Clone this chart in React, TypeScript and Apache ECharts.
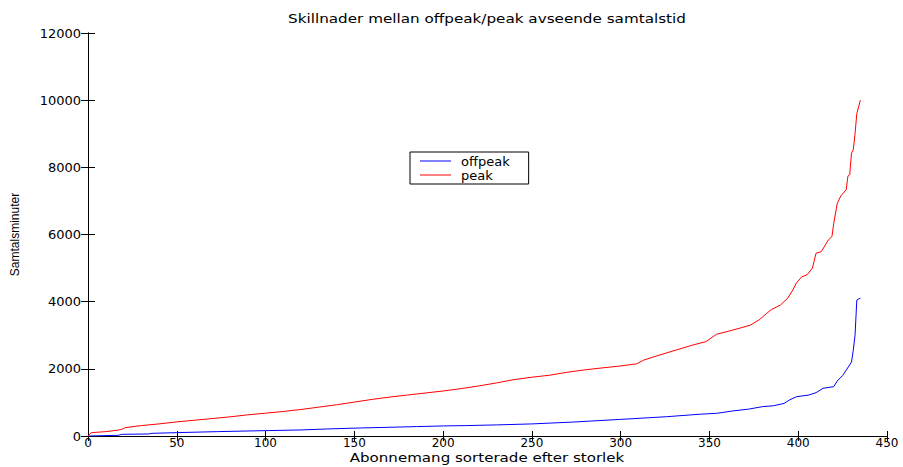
import React, { useEffect, useRef } from "react";
import * as echarts from "echarts";

// Subscribers sorted by size (index) and their call minutes.
const peakIdx = [0, 1, 2, 10, 17, 19, 21, 30, 40, 50, 60, 70, 80, 90, 100, 110, 120, 130, 140, 150, 160, 170, 180, 190, 200, 210, 220, 230, 240, 250, 260, 270, 280, 290, 300, 309, 313, 320, 330, 340, 348, 354, 360, 367, 373, 378, 382, 385, 390, 394, 397, 399, 402, 405, 408, 410, 413, 417, 419, 420, 422, 424, 427, 428, 429, 430, 431, 432, 433, 435];
const peakMin = [0, 60, 100, 130, 175, 200, 250, 310, 360, 420, 470, 520, 570, 630, 680, 730, 790, 860, 930, 1010, 1090, 1160, 1220, 1280, 1340, 1410, 1490, 1580, 1680, 1750, 1810, 1900, 1970, 2030, 2085, 2150, 2260, 2380, 2540, 2700, 2810, 3030, 3110, 3210, 3300, 3460, 3640, 3770, 3900, 4100, 4350, 4560, 4740, 4800, 5000, 5440, 5490, 5840, 5940, 6330, 6930, 7150, 7330, 7740, 7780, 8420, 8520, 9000, 9600, 10000];

const offpeakIdx = [0, 17, 19, 34, 36, 50, 73, 100, 120, 135, 154, 170, 185, 200, 213, 230, 250, 273, 300, 326, 345, 354, 363, 372, 380, 386, 392, 395, 399, 406, 410, 414, 420, 422, 425, 427, 430, 431, 432, 433, 434, 435];
const offpeakMin = [0, 20, 50, 60, 80, 100, 130, 160, 180, 210, 240, 260, 280, 300, 310, 330, 360, 415, 495, 575, 650, 675, 745, 800, 875, 900, 970, 1070, 1170, 1220, 1290, 1420, 1470, 1640, 1800, 1960, 2200, 2550, 3000, 4050, 4080, 4100];

const xTicks = { min: 0, max: 450, interval: 50 };
const yTicks = { min: 0, max: 12000, interval: 2000 };

const FONT = "DejaVu Sans";

export default function App() {
  const ref = useRef<HTMLDivElement>(null);

  useEffect(() => {
    if (!ref.current) return;
    const chart = echarts.init(ref.current, null, { renderer: "svg" });

    const pairs = (xs: number[], ys: number[]) => xs.map((x, i) => [x, ys[i]]);
    const axisLine = { show: true, lineStyle: { color: "#000", width: 1 } };
    const plain = (v: number) => String(v);

    chart.setOption({
      animation: false,
      backgroundColor: "#fff",
      legend: {
        left: 410,
        top: 152,
        orient: "vertical",
        data: ["offpeak", "peak"],
        icon: "rect",
        itemWidth: 31,
        itemHeight: 1,
        itemGap: 0,
        padding: [2, 19, 2, 10],
        borderColor: "#000",
        borderWidth: 1,
        backgroundColor: "#fff",
        textStyle: { fontFamily: FONT, fontSize: 13, color: "#000", lineHeight: 14, padding: [0, 0, 0, 5] },
      },
      grid: { left: 88, top: 33, right: 16, bottom: 31, containLabel: false, outerBoundsMode: "none" },
      xAxis: [
        {
          type: "value",
          ...xTicks,
          position: "bottom",
          axisLine,
          axisTick: { show: true, inside: true, length: 5, lineStyle: { color: "#000" } },
          axisLabel: { fontFamily: FONT, fontSize: 12, color: "#000", margin: 2, lineHeight: 9, formatter: plain },
          splitLine: { show: false },
        },
        {
          type: "value",
          ...xTicks,
          position: "top",
          axisLine,
          axisTick: { show: true, inside: true, length: 5, lineStyle: { color: "#000" } },
          axisLabel: { show: false },
          splitLine: { show: false },
        },
      ],
      yAxis: [
        {
          type: "value",
          ...yTicks,
          position: "left",
          axisLine,
          axisTick: { show: true, inside: true, length: 7, lineStyle: { color: "#000" } },
          axisLabel: { fontFamily: FONT, fontSize: 13, color: "#000", margin: 7, formatter: plain },
          splitLine: { show: false },
        },
        {
          type: "value",
          ...yTicks,
          position: "right",
          axisLine,
          axisTick: { show: true, inside: true, length: 7, lineStyle: { color: "#000" } },
          axisLabel: { show: false },
          splitLine: { show: false },
        },
      ],
      graphic: [
        {
          type: "text",
          x: 487,
          y: 18,
          scaleX: 1.17,
          style: {
            text: "Skillnader mellan offpeak/peak avseende samtalstid",
            fontFamily: FONT,
            fontSize: 13,
            fill: "#000",
            align: "center",
            verticalAlign: "middle",
          },
        },
        {
          type: "text",
          x: 487,
          y: 457,
          scaleX: 1.16,
          style: {
            text: "Abonnemang sorterade efter storlek",
            fontFamily: FONT,
            fontSize: 13,
            fill: "#000",
            align: "center",
            verticalAlign: "middle",
          },
        },
        {
          type: "text",
          x: 15,
          y: 234.5,
          rotation: Math.PI / 2,
          style: {
            text: "Samtalsminuter",
            fontFamily: "Liberation Sans",
            fontSize: 12,
            fill: "#000",
            align: "center",
            verticalAlign: "middle",
          },
        },
      ],
      series: [
        {
          name: "offpeak",
          type: "line",
          data: pairs(offpeakIdx, offpeakMin),
          symbol: "none",
          lineStyle: { color: "#0000ff", width: 1 },
          itemStyle: { color: "#0000ff" },
        },
        {
          name: "peak",
          type: "line",
          data: pairs(peakIdx, peakMin),
          symbol: "none",
          lineStyle: { color: "#ff0000", width: 1 },
          itemStyle: { color: "#ff0000" },
        },
      ],
    });

    return () => chart.dispose();
  }, []);

  return <div ref={ref} style={{ width: 903, height: 467, position: "absolute", left: 0, top: 0 }} />;
}
